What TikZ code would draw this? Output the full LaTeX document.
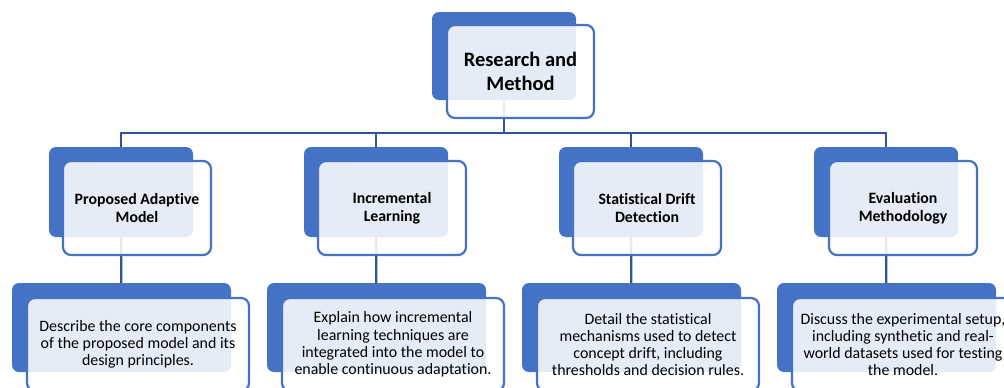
\documentclass[tikz,border=0pt]{standalone}
\usepackage{fontspec}
\setmainfont[Ligatures=NoCommon]{Carlito}
\usetikzlibrary{backgrounds}
\definecolor{boxblue}{RGB}{68,114,196}
\definecolor{linkblue}{RGB}{47,85,151}
\tikzset{
  backbox/.style={draw=none, fill=boxblue, rounded corners=7pt, anchor=north west,
    inner sep=0pt, outer sep=0pt},
  frontbox/.style={draw=boxblue, line width=2.2pt, fill=white, fill opacity=0.87,
    text opacity=1, rounded corners=8pt, anchor=north west, inner sep=0pt,
    outer sep=0pt, align=center, text=black},
  topback/.style={backbox, minimum width=144pt, minimum height=88pt},
  topfront/.style={frontbox, minimum width=147pt, minimum height=93pt,
    font=\bfseries\fontsize{20.5}{24}\selectfont},
  midback/.style={backbox, minimum width=144pt, minimum height=90pt},
  midfront/.style={frontbox, minimum width=148pt, minimum height=94pt,
    font=\bfseries\fontsize{15.8}{18}\selectfont},
  lowback/.style={backbox, minimum width=219pt, minimum height=89pt},
  lowfront/.style={frontbox, minimum width=222pt, minimum height=93pt,
    font=\fontsize{15.9}{17.3}\selectfont},
  conn/.style={draw=linkblue, line width=2.2pt}
}
\begin{document}
\begin{tikzpicture}[x=1pt,y=-1pt]
\useasboundingbox (0,0) rectangle (1004,388);
\clip (0,0) rectangle (1004,388);
\coordinate (bus) at (0,133);
% top
\node[topback] (tb) at (432,12) {};
\node[topfront] (tf) at (447,25) {Research and\\Method};
% level 2
\node[midback] (ab) at (49,147) {};
\node[midfront] (af) at (63,161) {Proposed Adaptive\\Model};
\node[midback] (bb) at (304,147) {};
\node[midfront] (bf) at (318,161) {Incremental\\Learning};
\node[midback] (cb) at (559,147) {};
\node[midfront] (cf) at (573,161) {Statistical Drift\\Detection};
\node[midback] (db) at (814,147) {};
\node[midfront] (df) at (829,161) {Evaluation\\Methodology};
% level 3
\node[lowback] (ab3) at (12,283) {};
\node[lowfront] (af3) at (27,298) {Describe the core components\\of the proposed model and its\\design principles.};
\node[lowback] (bb3) at (267,283) {};
\node[lowfront] (bf3) at (282,298) {Explain how incremental\\learning techniques are\\integrated into the model to\\enable continuous adaptation.};
\node[lowback] (cb3) at (522,283) {};
\node[lowfront] (cf3) at (537,298) {Detail the statistical\\mechanisms used to detect\\concept drift, including\\thresholds and decision rules.};
\node[lowback] (db3) at (777,283) {};
\node[lowfront] (df3) at (792,298) {Discuss the experimental setup,\\including synthetic and real-\\world datasets used for testing\\the model.};
% connectors
\begin{scope}[on background layer]
\foreach \c in {ab,bb,cb,db}{
  \draw[conn] (tb.center) -- (tb.center |- bus) -| (\c.center);
}
\draw[conn] (ab.center) -- (ab3.center);
\draw[conn] (bb.center) -- (bb3.center);
\draw[conn] (cb.center) -- (cb3.center);
\draw[conn] (db.center) -- (db3.center);
\end{scope}
\end{tikzpicture}
\end{document}
